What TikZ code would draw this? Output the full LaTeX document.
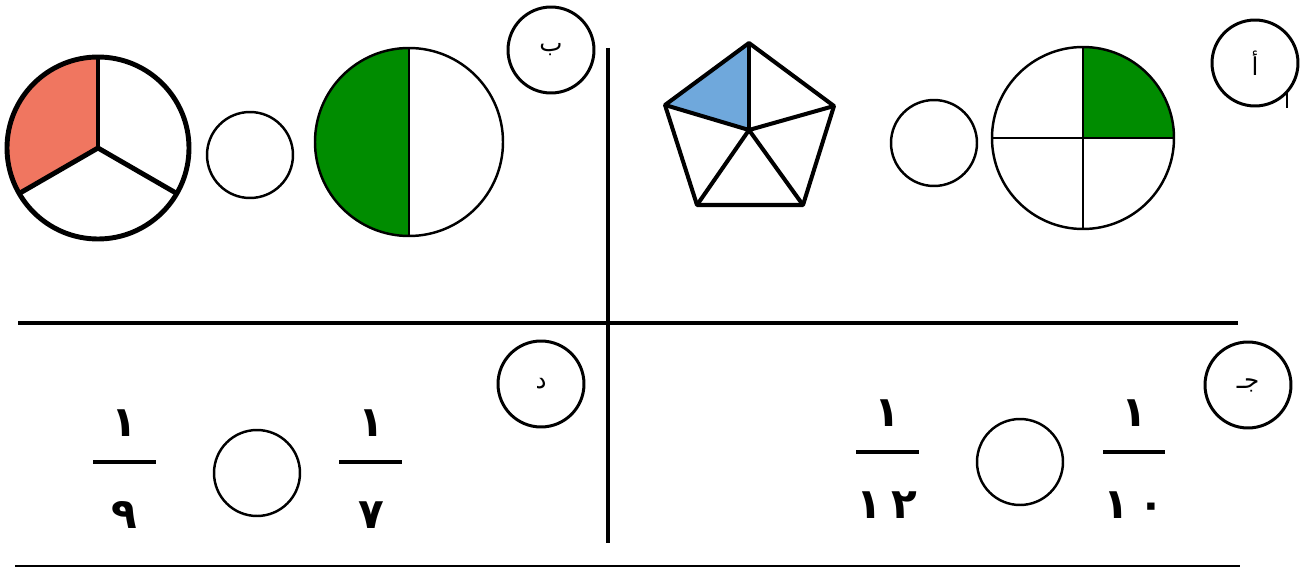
\documentclass[tikz,border=0pt]{standalone}
\usepackage{fontspec}
\usepackage{tikz}
\newfontfamily\arabicfont[Script=Arabic]{DejaVu Sans}
\TeXXeTstate=1
\definecolor{PieRed}{RGB}{240,118,96}
\definecolor{PieGreen}{RGB}{0,140,0}
\definecolor{PieBlue}{RGB}{111,168,220}

\begin{document}
\begin{tikzpicture}[
  x=0.02cm, y=0.02cm,
  tag/.style={
    circle,
    draw,
    line width=1.7pt,
    minimum size=1.72cm,
    inner sep=0pt,
    font=\arabicfont\fontsize{14}{16}\selectfont,
  },
  blank/.style={
    circle,
    draw,
    line width=1.4pt,
    minimum size=1.72cm,
    inner sep=0pt,
  },
  digit/.style={font=\arabicfont\bfseries\fontsize{24}{28}\selectfont, inner sep=0pt},
  bar/.style={line width=2.2pt},
  rule/.style={line width=2.3pt},
]
  \useasboundingbox (0,0) rectangle (1306,569);

  % frame of the four parts
  \coordinate (hl) at (18,246);
  \coordinate (hr) at (1238,246);
  \coordinate (vt) at (608,521);
  \coordinate (vb) at (608,26);
  \draw[rule] (hl) -- (hr);
  \draw[line width=1.8pt] (vt) -- (vb);
  \draw[line width=0.9pt] (15,3) -- (1240,3);
  \draw[line width=0.8pt] (1287,477) -- (1287,461);

  % part labels
  \node[tag] (ta) at (1255,506) {\beginR أ\endR};
  \node[tag] (tb) at (551,519) {\beginR ب\endR};
  \node[tag] (tc) at (1248,184) {\beginR جـ\endR};
  \node[tag] (td) at (541,185) {\beginR د\endR};

  % part a: pentagon and quarter circle
  \coordinate (p0) at (749,439);
  \coordinate (p1) at (749,526);
  \coordinate (p2) at (665,464);
  \coordinate (p3) at (697,364);
  \coordinate (p4) at (803,364);
  \coordinate (p5) at (834,463);
  \fill[PieBlue] (p0) -- (p1) -- (p2) -- cycle;
  \draw[line width=2.3pt, line join=round] (p1) -- (p2) -- (p3) -- (p4) -- (p5) -- cycle;
  \foreach \v in {p1,p2,p3,p4,p5}
    \draw[line width=2.3pt] (p0) -- (\v);

  \node[blank] (ca) at (934,426) {};

  \coordinate (q0) at (1083,431);
  \fill[PieGreen] (q0) -- ++(91,0) arc (0:90:91) -- cycle;
  \draw[line width=1.4pt] (q0) circle (91);
  \draw[line width=1.4pt] ([xshift=-1.82cm]q0) -- ([xshift=1.82cm]q0);
  \draw[line width=1.4pt] ([yshift=-1.82cm]q0) -- ([yshift=1.82cm]q0);

  % part b: half circle and thirds
  \coordinate (h0) at (409,427);
  \fill[PieGreen] (h0) -- ++(0,94) arc (90:270:94) -- cycle;
  \draw[line width=1.4pt] (h0) circle (94);
  \draw[line width=1.4pt] ([yshift=-1.88cm]h0) -- ([yshift=1.88cm]h0);

  \node[blank] (cb) at (250,414) {};

  \coordinate (t0) at (98,421);
  \fill[PieRed] (t0) -- ++(90:91) arc (90:210:91) -- cycle;
  \draw[line width=2.8pt] (t0) circle (91);
  \foreach \a in {90,210,330}
    \draw[line width=2.8pt] (t0) -- ++(\a:91);

  % part c: one tenth and one twelfth
  \node[digit] (cn1) at (1134,156) {١};
  \node[digit] (cd1) at (1134,64) {١\hspace{5pt}٠};
  \draw[bar] (1103,117) -- (1165,117);
  \node[blank] (cc) at (1020,107) {};
  \node[digit] (cn2) at (887,156) {١};
  \node[digit] (cd2) at (887,64) {١\hspace{5pt}٢};
  \draw[bar] (856,117) -- (919,117);

  % part d: one seventh and one ninth
  \node[digit] (dn1) at (371,146) {١};
  \node[digit] (dd1) at (371,54) {٧};
  \draw[bar] (339,107) -- (402,107);
  \node[blank] (cd) at (257,96) {};
  \node[digit] (dn2) at (124,146) {١};
  \node[digit] (dd2) at (124,54) {٩};
  \draw[bar] (93,107) -- (156,107);
\end{tikzpicture}
\end{document}
